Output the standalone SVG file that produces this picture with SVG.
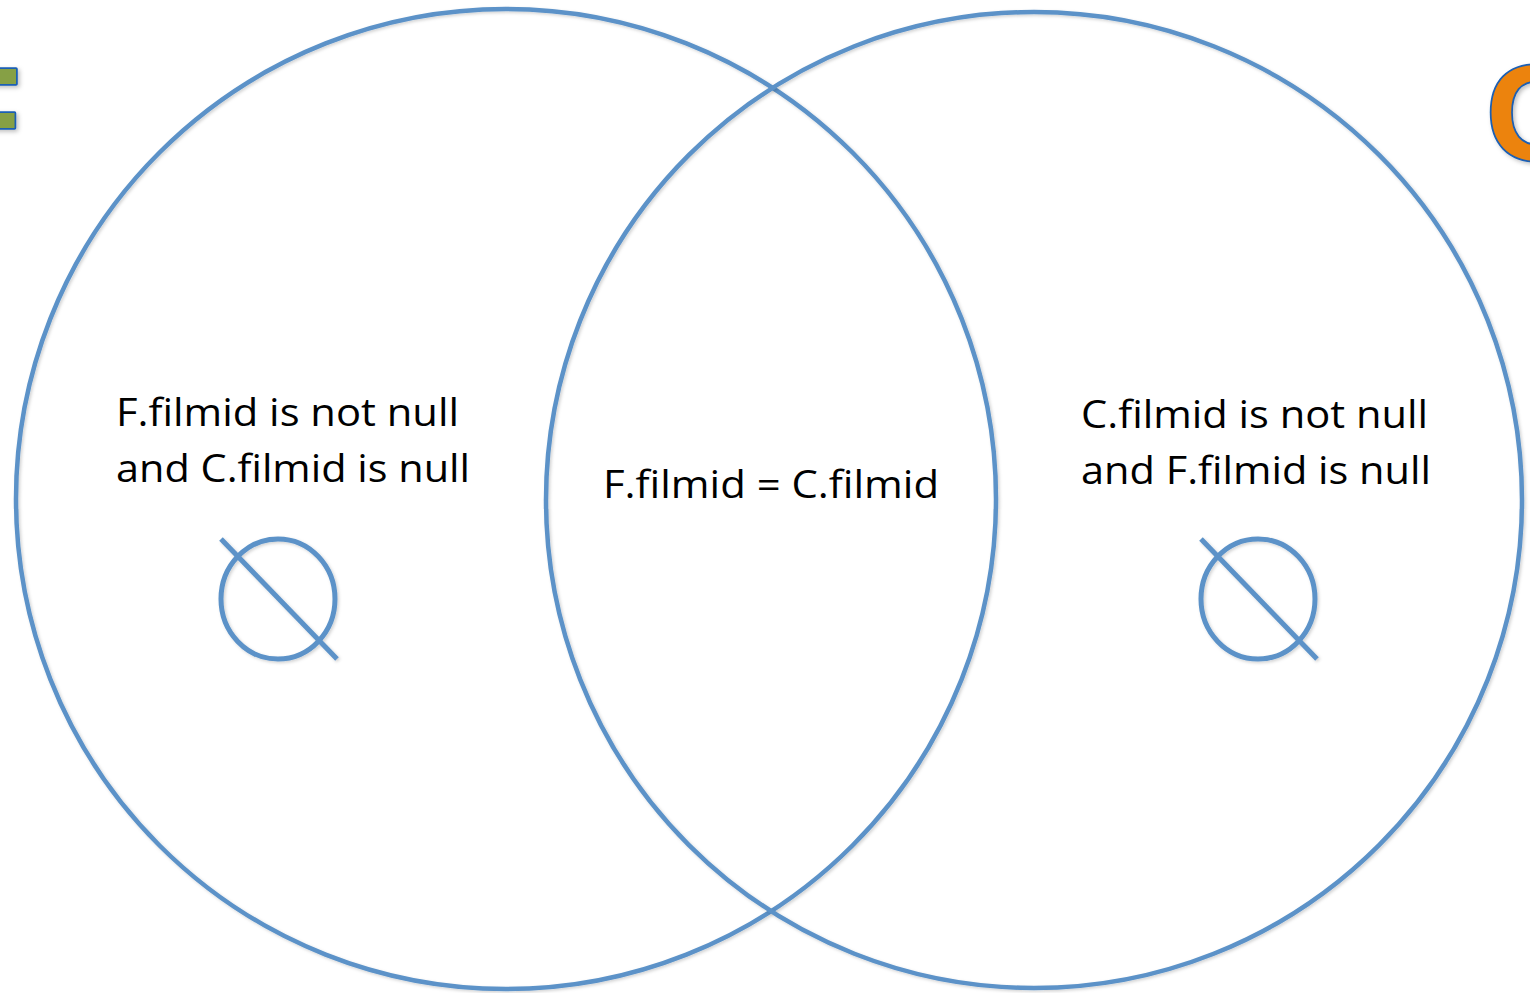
<svg xmlns="http://www.w3.org/2000/svg" width="1530" height="993" viewBox="0 0 1530 993">
  <defs>
    <filter id="sh" x="-20%" y="-20%" width="140%" height="140%">
      <feDropShadow dx="2" dy="2" stdDeviation="2" flood-color="#000" flood-opacity="0.25"/>
    </filter>
    <filter id="sh2" x="-10%" y="-10%" width="120%" height="120%">
      <feDropShadow dx="1.5" dy="1.5" stdDeviation="1.5" flood-color="#000" flood-opacity="0.18"/>
    </filter>
  </defs>
  <style>
    .ring { fill: none; stroke: #5b92c8; stroke-width: 4.5; }
    .empty { fill: none; stroke: #5b92c8; stroke-width: 5; }
    .lbl { font-family: "Open Sans", "Liberation Sans", sans-serif; font-size: 38px; fill: #000; }
    .big { font-family: "Liberation Sans", Arial, sans-serif; font-weight: bold; font-size: 135px; stroke: #1a5fb4; stroke-width: 3.5; stroke-linejoin: round; paint-order: stroke; }
  </style>
  <rect width="1530" height="993" fill="#fff"/>

  <g id="title-F">
    <text class="big" x="21" y="162" text-anchor="end" fill="#86a045" filter="url(#sh)">F</text>
  </g>
  <g id="title-C">
    <text class="big" x="1486" y="160" fill="#ec830d" filter="url(#sh)">C</text>
  </g>

  <g id="set-F">
    <circle class="ring" cx="506" cy="499" r="490" filter="url(#sh2)"/>
  </g>
  <g id="set-C">
    <circle class="ring" cx="1034" cy="500" r="488" filter="url(#sh2)"/>
  </g>

  <g id="region-left">
    <text class="lbl" x="116" y="426" textLength="343" lengthAdjust="spacingAndGlyphs">F.filmid is not null</text>
    <text class="lbl" x="116" y="482" textLength="354" lengthAdjust="spacingAndGlyphs">and C.filmid is null</text>
  </g>
  <g id="region-middle">
    <text class="lbl" x="603" y="498" textLength="336" lengthAdjust="spacingAndGlyphs">F.filmid = C.filmid</text>
  </g>
  <g id="region-right">
    <text class="lbl" x="1081" y="428" textLength="347" lengthAdjust="spacingAndGlyphs">C.filmid is not null</text>
    <text class="lbl" x="1081" y="484" textLength="350" lengthAdjust="spacingAndGlyphs">and F.filmid is null</text>
  </g>

  <g id="empty-left" filter="url(#sh2)">
    <ellipse class="empty" cx="278" cy="599" rx="57" ry="60"/>
    <line class="empty" x1="221" y1="539" x2="337" y2="659"/>
  </g>
  <g id="empty-right" filter="url(#sh2)">
    <ellipse class="empty" cx="1258" cy="599" rx="57" ry="60"/>
    <line class="empty" x1="1201" y1="539" x2="1317" y2="659"/>
  </g>

  <g id="connectors"></g>
</svg>
